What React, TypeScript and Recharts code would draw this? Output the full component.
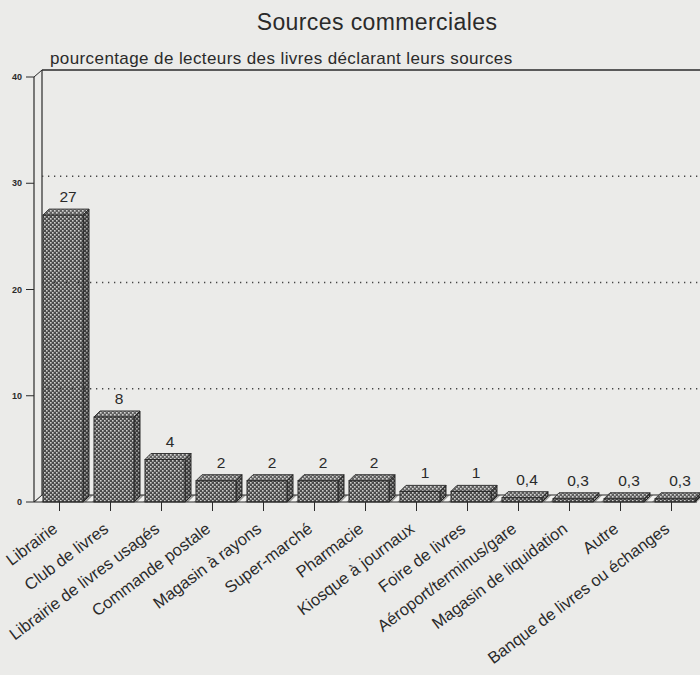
import React from 'react';
import {
    BarChart,
    Bar,
    XAxis,
    YAxis,
    ReferenceLine,
    ReferenceArea,
    LabelList,
} from 'recharts';

const categories = [
    'Librairie',
    'Club de livres',
    'Librairie de livres usagés',
    'Commande postale',
    'Magasin à rayons',
    'Super-marché',
    'Pharmacie',
    'Kiosque à journaux',
    'Foire de livres',
    'Aéroport/terminus/gare',
    'Magasin de liquidation',
    'Autre',
    'Banque de livres ou échanges',
];
const percentages = [27, 8, 4, 2, 2, 2, 2, 1, 1, 0.4, 0.3, 0.3, 0.3];
const yTicks = [0, 10, 20, 30, 40];
const gridValues = [10, 20, 30];

const data = categories.map((name, i) => ({ name, value: percentages[i] }));

const FONT = '"Liberation Sans", Arial, Helvetica, sans-serif';
const INK = '#2a2a2a';
const WALL_DX = 8;
const WALL_DY = 7;
const BAR_D = 6;

const fmt = (v: number) => String(v).replace('.', ',');

// 3D box bar with dotted pattern
const Bar3D = (props: any) => {
    const { x, y, width, height } = props;
    const bx = x + 3;
    const top = y;
    const bottom = y + height;
    const r = bx + width;
    const topFace = `M${bx},${top} L${bx + BAR_D},${top - BAR_D} L${r + BAR_D},${top - BAR_D} L${r},${top} Z`;
    const sideFace = `M${r},${top} L${r + BAR_D},${top - BAR_D} L${r + BAR_D},${bottom - BAR_D} L${r},${bottom} Z`;
    return (
        <g>
            <path d={topFace} fill="url(#dots)" stroke={INK} strokeWidth={1} />
            <path d={topFace} fill="#fff" fillOpacity={0.12} />
            <path d={sideFace} fill="url(#dots)" stroke={INK} strokeWidth={1} />
            <path d={sideFace} fill="#000" fillOpacity={0.2} />
            <rect x={bx} y={top} width={width} height={height} fill="url(#dots)" stroke={INK} strokeWidth={1} />
        </g>
    );
};

const Walls = (props: any) => {
    const { x, y, width, height } = props;
    const bottom = y + height;
    const floor = `M${x},${bottom} L${x + WALL_DX},${bottom - WALL_DY} L${x + width + WALL_DX},${bottom - WALL_DY} L${x + width},${bottom} Z`;
    return (
        <g>
            <path d={floor} fill="url(#hatch)" />
            <line x1={x + WALL_DX} y1={bottom - WALL_DY} x2={x + width + WALL_DX} y2={bottom - WALL_DY} stroke={INK} strokeWidth={1.2} />
            <line x1={x + WALL_DX} y1={y - WALL_DY} x2={x + WALL_DX} y2={bottom - WALL_DY} stroke={INK} strokeWidth={1.2} />
            <line x1={x + WALL_DX} y1={y - WALL_DY} x2={x + width + WALL_DX} y2={y - WALL_DY} stroke={INK} strokeWidth={1.5} />
            <line x1={x} y1={y} x2={x + WALL_DX} y2={y - WALL_DY} stroke={INK} strokeWidth={1} />
            <line x1={x} y1={bottom} x2={x + WALL_DX} y2={bottom - WALL_DY} stroke={INK} strokeWidth={1} />
        </g>
    );
};

const GridLine = (props: any) => {
    const { x1, y1, x2 } = props;
    return (
        <line
            x1={x1 + WALL_DX}
            y1={y1 - WALL_DY}
            x2={x2 + WALL_DX}
            y2={y1 - WALL_DY}
            stroke="#444"
            strokeWidth={1.3}
            strokeDasharray="1.3 4.7"
        />
    );
};

const XTick = (props: any) => {
    const { x, y, payload } = props;
    const tx = x - 1;
    const ty = y + 18;
    return (
        <text
            x={tx}
            y={ty}
            transform={`rotate(-37, ${tx}, ${ty})`}
            textAnchor="end"
            fontSize={16.5}
            fontFamily={FONT}
            fill={INK}
        >
            {payload.value}
        </text>
    );
};

const ValueLabel = (props: any) => {
    const { x, y, width, value } = props;
    return (
        <text
            x={x + 3 + width / 2 + BAR_D / 2 + 2}
            y={y - BAR_D - 7}
            textAnchor="middle"
            fontSize={15.5}
            fontFamily={FONT}
            fill={INK}
        >
            {fmt(value)}
        </text>
    );
};

export default function App() {
    return (
        <div
            style={{
                position: 'absolute',
                left: 0,
                top: 0,
                width: 700,
                height: 675,
                background: '#ebebe9',
                fontFamily: FONT,
                color: INK,
            }}
        >
            <div
                style={{
                    position: 'absolute',
                    left: 0,
                    width: 754,
                    top: 9,
                    textAlign: 'center',
                    fontSize: 23,
                    letterSpacing: 0.4,
                }}
            >
                Sources commerciales
            </div>
            <div style={{ position: 'absolute', left: 50, top: 49, fontSize: 17, letterSpacing: 0.4 }}>
                pourcentage de lecteurs des livres déclarant leurs sources
            </div>
            <BarChart
                width={700}
                height={675}
                data={data}
                margin={{ top: 77, right: 3, left: 0, bottom: 0 }}
                barCategoryGap={11}
                style={{ position: 'absolute', left: 0, top: 0 }}
            >
                <defs>
                    <pattern id="dots" width="4" height="4" patternUnits="userSpaceOnUse">
                        <rect width="4" height="4" fill="#4a4a4a" />
                        <rect x="0" y="0" width="1.6" height="1.6" fill="#cfcfcd" />
                        <rect x="2" y="2" width="1.6" height="1.6" fill="#cfcfcd" />
                    </pattern>
                    <pattern id="hatch" width="6" height="6" patternUnits="userSpaceOnUse" patternTransform="rotate(45)">
                        <rect width="6" height="6" fill="#f2f2f0" />
                        <rect width="2" height="6" fill="#9a9a98" />
                    </pattern>
                </defs>
                <XAxis
                    dataKey="name"
                    interval={0}
                    height={173}
                    tickSize={9}
                    tickMargin={2}
                    tick={<XTick />}
                    axisLine={{ stroke: INK, strokeWidth: 1.2 }}
                    tickLine={{ stroke: INK }}
                />
                <YAxis
                    domain={[0, 40]}
                    ticks={yTicks}
                    width={34}
                    tickSize={8}
                    tickMargin={4}
                    axisLine={{ stroke: INK, strokeWidth: 1.2 }}
                    tickLine={{ stroke: INK }}
                    tick={{ fontSize: 9, fontWeight: 700, fill: INK, fontFamily: FONT }}
                />
                <ReferenceArea y1={0} y2={40} shape={(p: any) => <Walls {...p} />} ifOverflow="visible" />
                {gridValues.map((v) => (
                    <ReferenceLine key={v} y={v} shape={(p: any) => <GridLine {...p} />} />
                ))}
                <Bar dataKey="value" barSize={40} isAnimationActive={false} shape={(p: any) => <Bar3D {...p} />}>
                    <LabelList dataKey="value" content={(p: any) => <ValueLabel {...p} />} />
                </Bar>
            </BarChart>
        </div>
    );
}
